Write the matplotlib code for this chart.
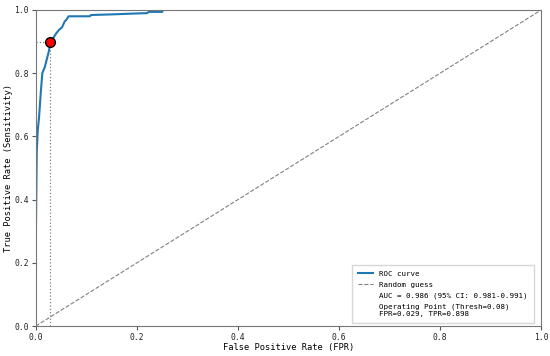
import numpy as np
import matplotlib
matplotlib.use("Agg")
import matplotlib.pyplot as plt
from matplotlib.lines import Line2D

plt.rcParams['font.family'] = ['DejaVu Sans Mono', 'DejaVu Sans']

# ROC 曲线数据
fpr = [0, 0, 0.002, 0.004, 0.0065, 0.010, 0.013, 0.018, 0.022, 0.026, 0.029, 0.034,
       0.040, 0.046, 0.052, 0.057, 0.061, 0.065, 0.107, 0.109, 0.15, 0.20, 0.22,
       0.224, 0.25, 0.252, 1.0]
tpr = [0, 0.25, 0.55, 0.62, 0.66, 0.74, 0.80, 0.82, 0.845, 0.87, 0.898, 0.91,
       0.925, 0.937, 0.945, 0.963, 0.97, 0.98, 0.98, 0.984, 0.986, 0.989, 0.99,
       0.994, 0.994, 1.0, 1.0]
op_fpr = 0.029
op_tpr = 0.898
auc_text = "AUC = 0.986 (95% CI: 0.981-0.991)"
op_text = "Operating Point (Thresh=0.08)\nFPR=0.029, TPR=0.898"
ticks = [0.0, 0.2, 0.4, 0.6, 0.8, 1.0]

fig = plt.figure(figsize=(5.5, 3.56), dpi=100)
ax = fig.add_axes([0.065, 0.084, 0.919, 0.888])

ax.plot(fpr, tpr, color="#1f77b4", lw=1.5, label="ROC curve")
ax.plot([0, 1], [0, 1], color="gray", ls="--", lw=0.8, label="Random guess")
ax.plot([op_fpr, op_fpr], [0, op_tpr], color="gray", ls=":", lw=0.9)
ax.plot([0, op_fpr], [op_tpr, op_tpr], color="gray", ls=":", lw=0.9)
ax.plot(op_fpr, op_tpr, "o", color="red", markeredgecolor="black", markersize=7, zorder=5)

ax.set_xlim(0, 1)
ax.set_ylim(0, 1)
ax.set_xticks(ticks)
ax.set_yticks(ticks)
ax.tick_params(labelsize=5.8, length=3, pad=2, color="#555555", labelcolor="#222222")
ax.set_xlabel("False Positive Rate (FPR)", fontsize=6.3, labelpad=0.5)
ax.set_ylabel("True Positive Rate (Sensitivity)", fontsize=6.3, labelpad=0.5)
for s in ax.spines.values():
    s.set_color("#777777")

blank = Line2D([], [], color="none")
handles = [Line2D([], [], color="#1f77b4", lw=1.5),
           Line2D([], [], color="gray", ls="--", lw=0.8),
           blank, blank]
labels = ["ROC curve", "Random guess", auc_text, op_text]
ax.legend(handles, labels, loc="lower right", bbox_to_anchor=(0.985, 0.01),
          fontsize=5.4, frameon=True, fancybox=False, edgecolor="#cccccc",
          handlelength=2.0, borderpad=0.8, labelspacing=0.6, borderaxespad=0)

fig.savefig("out.png", dpi=100)
